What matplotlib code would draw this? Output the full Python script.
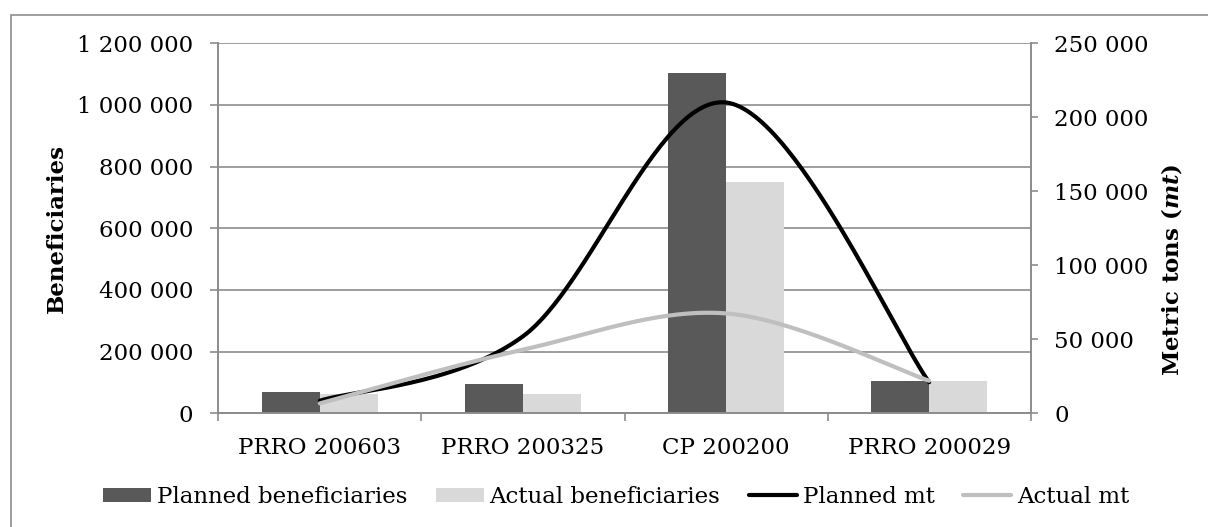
import numpy as np
import matplotlib
matplotlib.use("Agg")
import matplotlib.pyplot as plt
from matplotlib.ticker import FuncFormatter, FixedLocator
from matplotlib.patches import Rectangle

categories = ["PRRO 200603", "PRRO 200325", "CP 200200", "PRRO 200029"]
planned_beneficiaries = [69000, 95000, 1105000, 106000]
actual_beneficiaries = [62000, 62000, 750000, 104000]
planned_mt = [8500, 52000, 210000, 21000]
actual_mt = [6700, 43000, 67500, 22000]

plt.rcParams['font.family'] = ['DejaVu Serif']
plt.rcParams['mathtext.fontset'] = 'dejavuserif'
FS = 16.5
GRID = '#8c8c8c'

W, H = 1208, 527
fig = plt.figure(figsize=(W / 100, H / 100), dpi=100)

# chart-area border
fig.patches.append(Rectangle((11 / W, -0.05), 1.2, 1 - 15 / H + 0.05, transform=fig.transFigure,
                             fill=False, edgecolor=GRID, linewidth=1.2))

x0, x1 = 218.3, 1030.7
y0, y1 = 413.3, 43.3
ax = fig.add_axes([x0 / W, 1 - y0 / H, (x1 - x0) / W, (y0 - y1) / H])
ax2 = ax.twinx()

x = np.arange(len(categories))
bw = 0.2856
bp = ax.bar(x - bw / 2, planned_beneficiaries, bw, color='#595959', label='Planned beneficiaries', zorder=2)
ba = ax.bar(x + bw / 2, actual_beneficiaries, bw, color='#d9d9d9', label='Actual beneficiaries', zorder=2)


def smooth(xs, ys, n=60):
    pts = np.column_stack([xs, ys]).astype(float)
    out = []
    m = len(pts)
    for i in range(m - 1):
        p0 = pts[i - 1] if i > 0 else pts[i]
        p1 = pts[i]
        p2 = pts[i + 1]
        p3 = pts[i + 2] if i + 2 < m else pts[i + 1]
        c1 = p1 + (p2 - p0) / 6
        c2 = p2 - (p3 - p1) / 6
        t = np.linspace(0, 1, n)[:, None]
        seg = (1 - t) ** 3 * p1 + 3 * (1 - t) ** 2 * t * c1 + 3 * (1 - t) * t ** 2 * c2 + t ** 3 * p2
        out.append(seg if i == 0 else seg[1:])
    arr = np.vstack(out)
    return arr[:, 0], arr[:, 1]


sx, sy = smooth(x, planned_mt)
lp, = ax2.plot(sx, sy, color='black', lw=3.0, label='Planned mt', solid_capstyle='round')
sx, sy = smooth(x, actual_mt)
la, = ax2.plot(sx, sy, color='#bfbfbf', lw=3.0, label='Actual mt', solid_capstyle='round')

ax.set_xlim(-0.5, len(categories) - 0.5)
ax.set_ylim(0, 1200000)
ax.set_yticks(np.arange(0, 1200001, 200000))
ax2.set_ylim(0, 250000)
ax2.set_yticks(np.arange(0, 250001, 50000))

fmt = FuncFormatter(lambda v, p: f"{int(v):,}".replace(",", " "))
ax.yaxis.set_major_formatter(fmt)
ax2.yaxis.set_major_formatter(fmt)

ax.xaxis.set_major_locator(FixedLocator(np.arange(-0.5, len(categories), 1.0)))
ax.xaxis.set_minor_locator(FixedLocator(x))
ax.set_xticklabels([], minor=False)
ax.set_xticklabels(categories, minor=True)
ax.tick_params(axis='x', which='major', length=6, color=GRID, width=1.2)
ax.tick_params(axis='x', which='minor', length=0, pad=17, labelsize=FS)
ax.tick_params(axis='y', length=6, color=GRID, width=1.2, pad=12, labelsize=FS)
ax2.tick_params(axis='y', length=5, color=GRID, width=1.2, pad=12, labelsize=FS)

ax.set_axisbelow(True)
ax.grid(axis='y', color=GRID, lw=1.2, zorder=0)
for a in (ax, ax2):
    a.spines['top'].set_visible(False)
    for s in ('left', 'right', 'bottom'):
        a.spines[s].set_color(GRID)
        a.spines[s].set_linewidth(1.2)

fig.text(57 / W, 1 - 228.5 / H, 'Beneficiaries', rotation=90, ha='center', va='center',
         fontsize=FS, fontweight='bold')
fig.text(1171.7 / W, 1 - 270 / H, r'Metric tons ($\mathbfit{mt}$)', rotation=90, ha='center', va='center',
         fontsize=FS, fontweight='bold')

fig.legend(handles=[bp, ba, lp, la], loc='center', bbox_to_anchor=(616 / W, 1 - 497 / H),
           ncol=4, frameon=False, fontsize=FS, handlelength=2.1, handleheight=0.55,
           handletextpad=0.25, columnspacing=1.25, borderpad=0)

fig.savefig('out.png', dpi=100)
